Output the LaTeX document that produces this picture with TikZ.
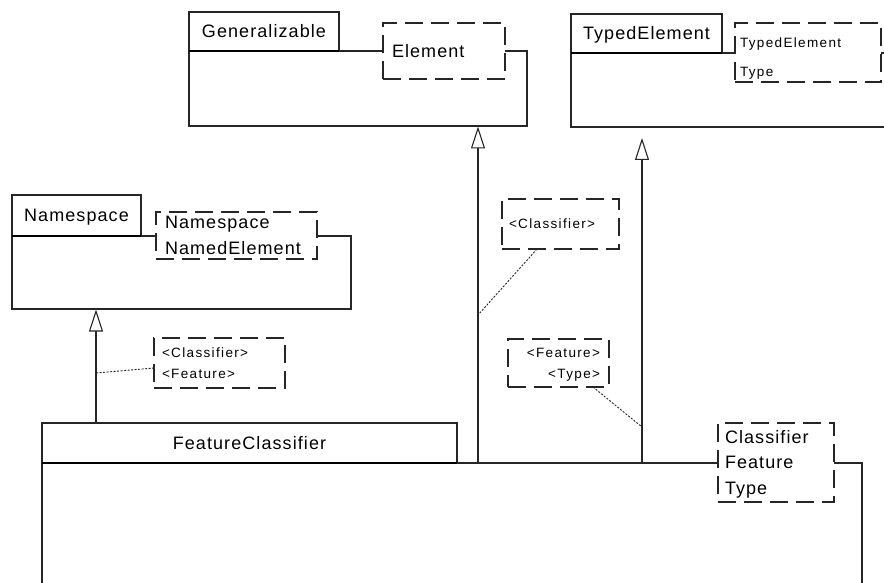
\documentclass[tikz,border=0pt]{standalone}
\usepackage{fontspec}
\setmainfont{Liberation Sans}
\newfontfamily\lfont[LetterSpace=6]{Liberation Sans}
\newfontfamily\sfont[LetterSpace=10]{Liberation Sans}
\usetikzlibrary{arrows.meta}
\definecolor{ink}{gray}{0.15}
\begin{document}
\begin{tikzpicture}[x=1pt,y=-1pt,
  every node/.style={inner sep=0pt, outer sep=0pt},
  line/.style={line width=1.1pt, draw=ink},
  tab/.style={draw=ink, line width=1.1pt, anchor=north west, font=\lfont\fontsize{18}{20}\selectfont, text height=13pt, text depth=0pt},
  tabsep/.style={line width=2pt, draw=black},
  tmpl/.style={draw=ink, dash pattern=on 18pt off 8pt, line width=1.1pt, fill=white, anchor=north west},
  big/.style={anchor=base west, font=\lfont\fontsize{18}{20}\selectfont},
  small/.style={anchor=base west, font=\sfont\fontsize{13.5}{16}\selectfont},
  gen/.style={line width=1.1pt, draw=ink, -{Triangle[open, width=14pt, length=22pt, line width=1.1pt]}},
  note/.style={line width=0.9pt, draw=ink, dash pattern=on 2pt off 1.5pt}
]
\clip (0,0) rectangle (884,583);
\fill[white] (0,0) rectangle (884,583);

% Generalizable
\node[tab, minimum width=150pt, minimum height=39pt] (genTab) at (189,12) {Generalizable};
\draw[line] (genTab.south west) -- (189,126) -- (527,126) -- (527,51) -- (genTab.south east);
\draw[tabsep] (genTab.south west) -- (genTab.south east);
\node[tmpl, minimum width=122pt, minimum height=56pt] (genPar) at (383,23) {};
\node[big] (genParA) at (392,57.5) {Element};

% TypedElement
\node[tab, minimum width=151pt, minimum height=39pt] (typTab) at (571,14) {TypedElement};
\draw[line] (typTab.south west) -- (571,127) -- (900,127) -- (900,53) -- (typTab.south east);
\draw[tabsep] (typTab.south west) -- (typTab.south east);
\node[tmpl, minimum width=146pt, minimum height=59pt] (typPar) at (735,23) {};
\node[small] (typParA) at (740,48) {TypedElement};
\node[small] (typParB) at (740,77) {Type};

% Namespace
\node[tab, minimum width=129pt, minimum height=41pt] (nsTab) at (12,195) {Namespace};
\draw[line] (nsTab.south west) -- (12,309) -- (351,309) -- (351,236) -- (nsTab.south east);
\draw[tabsep] (nsTab.south west) -- (nsTab.south east);
\node[tmpl, minimum width=161pt, minimum height=47pt] (nsPar) at (156,212) {};
\node[big] (nsParA) at (165,229) {Namespace};
\node[big] (nsParB) at (165,254) {NamedElement};

% FeatureClassifier
\node[tab, minimum width=415pt, minimum height=40pt] (fcTab) at (42,423) {FeatureClassifier};
\draw[line] (fcTab.south west) -- (42,600);
\draw[line] (fcTab.south east) -- (862,463) -- (862,600);
\draw[tabsep] (fcTab.south west) -- (fcTab.south east);
\node[tmpl, minimum width=116pt, minimum height=79pt] (fcPar) at (718,423) {};
\node[big] (fcParA) at (725,443) {Classifier};
\node[big] (fcParB) at (725,468) {Feature};
\node[big] (fcParC) at (725,494) {Type};

% generalizations
\coordinate (nsTip) at (96,309.5);
\coordinate (nsFoot) at (96,423);
\coordinate (geTip) at (478,126.5);
\coordinate (geFoot) at (478,463);
\coordinate (tyTip) at (642,138);
\coordinate (tyFoot) at (642,463);
\draw[gen] (nsFoot) -- (nsTip);
\draw[gen] (geFoot) -- (geTip);
\draw[gen] (tyFoot) -- (tyTip);

% binding notes
\node[tmpl, minimum width=131pt, minimum height=50pt] (n1) at (154,338) {};
\node[small] (n1a) at (162,357) {<Classifier>};
\node[small] (n1b) at (162,378) {<Feature>};
\coordinate (n1p) at (96,373);
\draw[note] ([yshift=-5pt]n1.west) -- (n1p);

\node[tmpl, minimum width=117pt, minimum height=50pt] (n2) at (502,199) {};
\node[small] (n2a) at (509,229) {<Classifier>};
\coordinate (n2p) at (478,315);
\draw[note] ([xshift=-23.5pt]n2.south) -- (n2p);

\node[tmpl, minimum width=101pt, minimum height=48pt] (n3) at (508,339) {};
\node[small, anchor=base east] (n3a) at (600,357) {<Feature>};
\node[small, anchor=base east] (n3b) at (600,378) {<Type>};
\coordinate (n3p) at (642,427);
\draw[note] ([xshift=34.5pt]n3.south) -- (n3p);
\end{tikzpicture}
\end{document}
